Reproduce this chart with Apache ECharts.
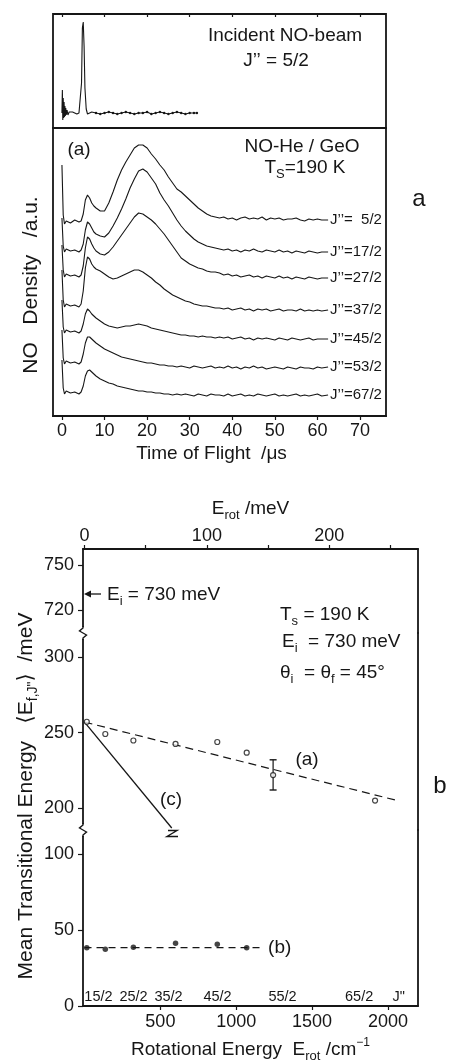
<!DOCTYPE html>
<html><head><meta charset="utf-8">
<script src="https://cdn.jsdelivr.net/npm/echarts@6/dist/echarts.min.js"></script>
<style>html,body{margin:0;padding:0;background:#fff}#c{width:453px;height:1062px}</style>
</head><body><div id="c"></div>
<script>
// ---------------- DATA: panel a (time-of-flight traces, a.u.) ----------------
const tofUs = [0, 0.3, 0.6, 1, 2, 3, 4, 4.5, 5, 5.5, 6, 6.5, 7, 7.5,
  8, 9, 10, 11, 12, 13, 14, 15, 16, 17, 18, 19, 20, 21, 22, 23, 24, 25, 26, 27, 28, 29, 30, 31, 32, 33, 34, 35, 36,
  37, 38, 39, 40, 41, 42, 43, 44, 45, 46, 47, 48, 49, 50, 51, 52, 53, 54, 55, 56, 57, 58, 59, 60, 61, 62.5];
const j5_2 = [251, 201, 192, 195, 193, 196, 194, 195, 202, 216, 221, 218, 213, 210,
  208, 205, 205, 213, 224, 236, 246, 254, 261, 268, 271, 271, 268, 262, 257, 251, 246, 239, 233, 227, 224, 220, 216, 212, 208, 205, 202, 200, 199,
  198, 199, 197, 198, 196, 198, 199, 197, 198, 197, 199, 196, 198, 197, 198, 196, 197, 197, 198, 196, 195, 197, 196, 197, 196, 196];
const j17_2 = [198, 170, 164, 167, 165, 166, 164, 166, 172, 186, 194, 192, 188, 184,
  182, 180, 179, 183, 190, 198, 207, 217, 228, 237, 245, 247, 244, 238, 232, 223, 216, 210, 203, 196, 190, 185, 181, 177, 174, 172, 170, 169, 168,
  167, 166, 167, 165, 166, 164, 166, 165, 167, 165, 164, 166, 165, 164, 166, 164, 165, 163, 165, 164, 163, 165, 164, 163, 164, 164];
const j27_2 = [171, 146, 139, 142, 140, 141, 139, 141, 150, 168, 179, 177, 172, 168,
  165, 162, 161, 164, 169, 175, 181, 187, 193, 199, 203, 202, 199, 196, 192, 187, 182, 176, 170, 164, 158, 155, 152, 150, 148, 147, 145, 144, 144,
  143, 141, 142, 140, 141, 139, 140, 141, 139, 140, 138, 140, 139, 138, 140, 138, 139, 137, 139, 138, 137, 139, 138, 137, 138, 138];
const j37_2 = [146, 116, 109, 112, 110, 111, 109, 112, 125, 148, 159, 157, 152, 149,
  147, 145, 142, 139, 137, 138, 140, 142, 144, 146, 146, 144, 141, 138, 134, 131, 127, 124, 121, 119, 117, 115, 114, 112, 111, 110, 110, 109, 108,
  108, 107, 108, 106, 107, 108, 106, 107, 105, 107, 106, 107, 105, 106, 107, 105, 106, 106, 105, 107, 105, 106, 105, 106, 105, 106];
const j45_2 = [116, 89, 83, 86, 84, 85, 83, 85, 92, 102, 107, 105, 102, 100,
  98, 95, 92, 90, 89, 88, 89, 90, 90, 91, 92, 91, 90, 88, 87, 86, 85, 84, 83, 82, 81, 81, 80, 80, 79, 80, 79, 79, 78,
  79, 78, 79, 77, 78, 79, 77, 78, 76, 78, 77, 78, 77, 76, 78, 77, 76, 78, 77, 76, 77, 78, 76, 77, 77, 77];
const j53_2 = [86, 58, 52, 55, 53, 54, 52, 54, 62, 73, 79, 79, 77, 75,
  73, 70, 67, 65, 63, 61, 59, 58, 57, 56, 55, 54, 53, 53, 52, 51, 51, 50, 50, 49, 50, 49, 48, 50, 49, 48, 49, 50, 48,
  49, 48, 50, 48, 49, 47, 49, 48, 50, 48, 49, 47, 48, 49, 48, 47, 49, 48, 47, 49, 48, 48, 47, 49, 48, 49];
const j67_2 = [56, 28, 22, 25, 23, 24, 22, 24, 30, 40, 45, 46, 44, 42,
  40, 37, 35, 33, 32, 30, 29, 28, 27, 26, 25, 25, 24, 24, 23, 23, 22, 22, 21, 22, 21, 22, 21, 20, 22, 21, 20, 22, 21,
  21, 20, 22, 20, 21, 22, 20, 21, 20, 22, 21, 20, 21, 22, 20, 21, 20, 21, 22, 20, 21, 20, 21, 22, 20, 21];
const traceLabels = ['J\u2019\u2019=  5/2', 'J\u2019\u2019=17/2', 'J\u2019\u2019=27/2', 'J\u2019\u2019=37/2', 'J\u2019\u2019=45/2', 'J\u2019\u2019=53/2', 'J\u2019\u2019=67/2'];

// incident beam (a.u.)
const incidentTof = [0, 0.1, 0.2, 0.3, 0.4, 0.5, 0.6, 0.7, 0.8, 0.9, 1, 1.2, 1.4, 1.7, 2, 2.5, 3, 3.5, 4,
  4.3, 4.6, 4.8, 5, 5.2, 5.4, 5.7, 6, 6.5, 7,
  8, 9, 10, 11, 12, 13, 14, 15, 16, 17, 18, 19, 20, 21, 22, 23, 24, 25, 26, 27, 28, 29, 30, 31, 31.7];
const incidentSignal = [15, 38, 8, 30, 10, 26, 11, 22, 12, 20, 13, 18, 13, 16, 14, 16, 15, 14, 15,
  17, 45, 100, 106, 82, 40, 19, 14, 15, 16,
  15, 14, 15, 16, 15, 14, 15, 16, 15, 14, 15, 15, 16, 14, 15, 16, 15, 14, 15, 16, 15, 14, 15, 15, 15];
const tofTicks = [0, 10, 20, 30, 40, 50, 60, 70];

// ---------------- DATA: panel b ----------------
const erotOpen = [15, 137, 322, 600, 875, 1069, 1243, 1915];          // cm-1
const etransOpen = [257.2, 249.1, 244.8, 242.5, 243.8, 236.7, 221.9, 205]; // meV
const erotFilled = [15, 137, 322, 600, 875, 1069];
const etransFilled = [38.4, 37.4, 38.7, 41.3, 40.7, 38.4];
const fitAX = [0, 2050], fitAY = [257, 205.3];
const fitBX = [0, 1177], fitBY = [38.5, 38.5];
const fitCX = [0, 575], fitCY = [257, 186.8];
const errX = [1243, 1243], errY = [212, 232];
const jLabels = ['15/2', '25/2', '35/2', '45/2', '55/2', '65/2', 'J"'];
const jPos = [92, 323, 554, 877, 1305, 1810, 2070];
const meVTicks = [0, 50, 100, 150, 200, 250];
const meVLabels = [0, 100, 200];
const cmLabels = [500, 1000, 1500, 2000];
const yTopTicks = [720, 750];
const yMidTicks = [200, 250, 300];
const yLowTicks = [0, 50, 100];

// ---------------- STYLE ----------------
const FONT = '"Liberation Sans", Arial, Helvetica, "DejaVu Sans", sans-serif';
const INK = '#161616';
const pairs = (xs, ys) => xs.map((x, i) => [x, ys[i]]);
const mkRich = (fs, sub, sup) => ({
  n: {fontSize: fs, fontFamily: FONT, color: INK, fill: INK, lineHeight: fs + 7, verticalAlign: 'middle'},
  s: {fontSize: sub, fontFamily: FONT, color: INK, fill: INK, lineHeight: sub, verticalAlign: 'bottom'},
  u: {fontSize: sup, fontFamily: FONT, color: INK, fill: INK, lineHeight: sup, verticalAlign: 'top'}
});
const RICH = mkRich(19, 13, 12);
const RICH_T = mkRich(21, 14, 13);
const AX = {color: INK, width: 1.8};
const plain = (v) => String(v);
const txt = (x, y, text, fs, extra) => ({type: 'text', x: x, y: y, z: 100, silent: true,
  style: Object.assign({text: text, fill: INK, fontSize: fs, fontFamily: FONT, align: 'center', verticalAlign: 'middle', rich: RICH}, extra || {})});
const zig = (pts) => ({type: 'polyline', z: 101, silent: true, shape: {points: pts}, style: {stroke: INK, lineWidth: 1.4, fill: null}});
const wipe = (x, y, w, h) => ({type: 'rect', z: 100, silent: true, shape: {x: x, y: y, width: w, height: h}, style: {fill: '#fff'}});

const traces = [j5_2, j17_2, j27_2, j37_2, j45_2, j53_2, j67_2];
const tofMin = -2.1, tofMax = 76.1;
const cmMin = -10, cmMax = 2198;
const CM_PER_MEV = 8.0655;

const grids = [
  {left: 53, top: 14, width: 333, height: 114},
  {left: 53, top: 128, width: 333, height: 288},
  {left: 83, top: 549, width: 335, height: 84},
  {left: 83, top: 633, width: 335, height: 197},
  {left: 83, top: 830, width: 335, height: 176}
].map((g, i) => Object.assign(g, {outerBoundsMode: 'none', containLabel: false,
  show: i < 2, borderColor: INK, borderWidth: 1.8, backgroundColor: 'transparent'}));

const lbl = (extra) => Object.assign({color: INK, fontFamily: FONT, fontSize: 18, formatter: plain}, extra);
const noSplit = {show: false};
const axLine = (show) => ({show: show, onZero: false, lineStyle: AX});

const xAxes = [
  {gridIndex: 0, type: 'value', position: 'top', min: tofMin, max: tofMax, axisLine: axLine(false),
   axisTick: {show: true, inside: true, length: 3, customValues: tofTicks, lineStyle: {color: INK, width: 1.2}},
   axisLabel: {show: false}, splitLine: noSplit},
  {gridIndex: 1, type: 'value', position: 'bottom', min: tofMin, max: tofMax, axisLine: axLine(true),
   axisTick: {show: true, length: 4, customValues: tofTicks, lineStyle: {color: INK, width: 1.2}},
   axisLabel: lbl({customValues: tofTicks, margin: 6}), splitLine: noSplit,
   name: 'Time of Flight  /\u03bcs', nameLocation: 'middle', nameGap: 28,
   nameTextStyle: {color: INK, fontFamily: FONT, fontSize: 19, padding: [0, 16, 0, 0]}},
  {gridIndex: 2, type: 'value', position: 'top', min: cmMin / CM_PER_MEV, max: cmMax / CM_PER_MEV,
   axisLine: axLine(true),
   axisTick: {show: true, length: 4, customValues: meVTicks, lineStyle: {color: INK, width: 1.2}},
   axisLabel: lbl({customValues: meVLabels, margin: 4}), splitLine: noSplit,
   name: '{n|E}{s|rot}{n| /meV}', nameLocation: 'middle', nameGap: 27, nameTextStyle: {rich: RICH}},
  {gridIndex: 2, type: 'value', position: 'bottom', min: cmMin, max: cmMax, show: false, axisLine: axLine(false)},
  {gridIndex: 3, type: 'value', position: 'bottom', min: cmMin, max: cmMax, show: false, axisLine: axLine(false)},
  {gridIndex: 4, type: 'value', position: 'bottom', min: cmMin, max: cmMax,
   axisLine: axLine(true),
   axisTick: {show: true, length: 4, customValues: cmLabels, lineStyle: {color: INK, width: 1.2}},
   axisLabel: lbl({customValues: cmLabels, margin: 7}), splitLine: noSplit,
   name: '{n|Rotational Energy  E}{s|rot}{n| /cm}{u|\u22121}', nameLocation: 'middle', nameGap: 31,
   nameTextStyle: {rich: RICH}},
  {gridIndex: 4, type: 'value', position: 'bottom', min: cmMin, max: cmMax,
   axisLine: axLine(false), axisTick: {show: false}, splitLine: noSplit,
   axisLabel: {inside: true, customValues: jPos, margin: 2, color: INK, fontFamily: FONT, fontSize: 14.5,
     formatter: (v) => jLabels[jPos.indexOf(v)] || ''}}
];

const yLeft = (gi, min, max, ticks) => ({gridIndex: gi, type: 'value', position: 'left', min: min, max: max,
  axisLine: axLine(true),
  axisTick: {show: true, length: 5, customValues: ticks, lineStyle: {color: INK, width: 1.2}},
  axisLabel: lbl({customValues: ticks, margin: 9}), splitLine: noSplit});
const yRight = (gi, min, max) => ({gridIndex: gi, type: 'value', position: 'right', min: min, max: max,
  axisLine: axLine(true), axisTick: {show: false}, axisLabel: {show: false}, splitLine: noSplit});

const yAxes = [
  {gridIndex: 0, type: 'value', min: 0, max: 114, show: false, axisLine: axLine(false)},
  {gridIndex: 1, type: 'value', min: 0, max: 288, show: false, axisLine: axLine(false)},
  yLeft(2, 704.5, 760.5, yTopTicks), yRight(2, 704.5, 760.5),
  yLeft(3, 185.5, 316, yMidTicks), yRight(3, 185.5, 316),
  yLeft(4, 0, 116, yLowTicks), yRight(4, 0, 116)
];

const series = [];
series.push({type: 'line', xAxisIndex: 0, yAxisIndex: 0, data: pairs(incidentTof, incidentSignal),
  symbol: 'circle', symbolSize: (v) => (v[0] >= 8 ? 2.4 : 0), showSymbol: true,
  itemStyle: {color: INK}, lineStyle: {color: INK, width: 1.1}, silent: true});
traces.forEach((vals, i) => series.push({type: 'line', xAxisIndex: 1, yAxisIndex: 1, data: pairs(tofUs, vals),
  symbol: 'none', lineStyle: {color: INK, width: 1.1}, silent: true,
  endLabel: {show: true, formatter: traceLabels[i], distance: 2, color: INK, fontFamily: FONT, fontSize: 15}}));

series.push({type: 'line', xAxisIndex: 4, yAxisIndex: 4, data: pairs(fitAX, fitAY), symbol: 'none',
  lineStyle: {color: INK, width: 1.2, type: [8, 5]}, silent: true});
series.push({type: 'line', xAxisIndex: 4, yAxisIndex: 4, data: pairs(fitCX, fitCY), symbol: 'none',
  lineStyle: {color: INK, width: 1.3}, silent: true});
series.push({type: 'line', xAxisIndex: 4, yAxisIndex: 4, data: pairs(errX, errY), symbol: 'rect', symbolSize: [7, 1.4],
  itemStyle: {color: INK}, lineStyle: {color: INK, width: 1.2}, silent: true, z: 4});
series.push({type: 'scatter', xAxisIndex: 4, yAxisIndex: 4, data: pairs(erotOpen, etransOpen), symbol: 'circle', symbolSize: 5,
  itemStyle: {color: '#fff', borderColor: INK, borderWidth: 1.2}, silent: true, z: 5});
series.push({type: 'line', xAxisIndex: 5, yAxisIndex: 6, data: pairs(fitBX, fitBY), symbol: 'none',
  lineStyle: {color: INK, width: 1.2, type: [7, 5]}, silent: true,
  endLabel: {show: true, formatter: '(b)', distance: 5, color: INK, fontFamily: FONT, fontSize: 19}});
series.push({type: 'scatter', xAxisIndex: 5, yAxisIndex: 6, data: pairs(erotFilled, etransFilled), symbol: 'circle', symbolSize: 5.5,
  itemStyle: {color: INK}, silent: true, z: 5});

const graphics = [
  txt(285, 36, 'Incident NO-beam', 19),
  txt(276, 61, 'J\u2019\u2019 = 5/2', 19),
  txt(79, 150, '(a)', 19),
  txt(302, 147, 'NO-He / GeO', 19),
  txt(305, 168, '{n|T}{s|S}{n|=190 K}', 19),
  txt(419, 199, 'a', 24),
  txt(31, 285, 'NO   Density   /a.u.', 21, {rich: RICH_T}),
  // panel b annotations
  txt(107, 595, '{n|E}{s|i}{n| = 730 meV}', 19, {align: 'left'}),
  txt(280, 615, '{n|T}{s|s}{n| = 190 K}', 19, {align: 'left'}),
  txt(282, 642, '{n|E}{s|i}{n|  = 730 meV}', 19, {align: 'left'}),
  txt(280, 673, '{n|\u03b8}{s|i}{n|  = \u03b8}{s|f}{n| = 45\u00b0}', 19, {align: 'left'}),
  txt(307, 760, '(a)', 19),
  txt(171, 800, '(c)', 19),
  txt(440, 786, 'b', 24),
  txt(26, 796, '{n|Mean Transitional Energy   \u27e8E}{s|f,J"}{n|\u27e9  /meV}', 21, {rich: RICH_T}),
  // Ei arrow
  {type: 'line', z: 100, silent: true, shape: {x1: 88, y1: 594, x2: 101, y2: 594}, style: {stroke: INK, lineWidth: 1.3}},
  {type: 'polygon', z: 100, silent: true, shape: {points: [[84, 594], [91, 590.5], [91, 597.5]]}, style: {fill: INK}},
  // axis breaks
  wipe(79, 627, 9, 12), zig([[83, 626], [83, 628], [79.5, 631], [86.5, 635], [83, 638], [83, 640]]),
  wipe(79, 824, 9, 12), zig([[83, 823], [83, 825], [79.5, 828], [86.5, 832], [83, 835], [83, 837]]),
  // break mark at end of (c)
  zig([[168, 830.5], [177, 830.5], [167, 836.5], [178, 836.5]])
];
graphics[6].rotation = Math.PI / 2;
graphics[14].rotation = Math.PI / 2;

const chart = echarts.init(document.getElementById('c'), null, {renderer: 'canvas'});
chart.setOption({
  animation: false,
  backgroundColor: '#fff',
  textStyle: {fontFamily: FONT, color: INK},
  grid: grids,
  xAxis: xAxes,
  yAxis: yAxes,
  series: series,
  graphic: {elements: graphics}
});
</script>
</body></html>
